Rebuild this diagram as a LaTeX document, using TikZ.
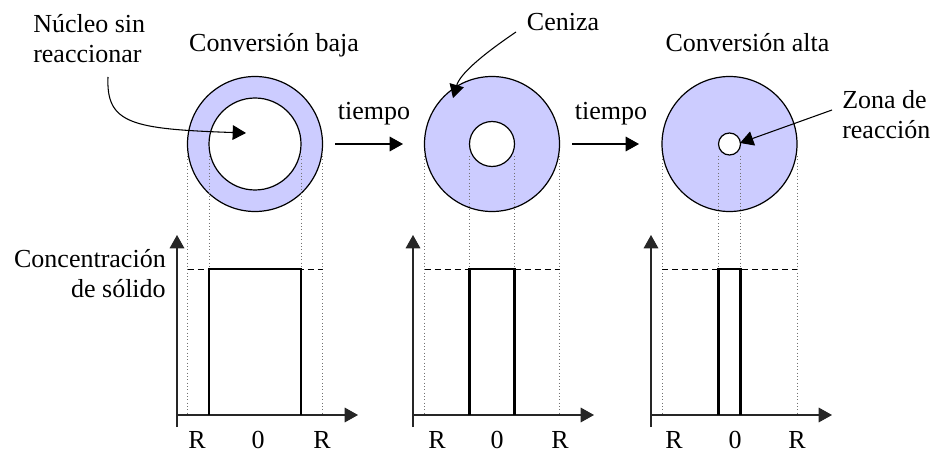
\documentclass[tikz,border=0pt]{standalone}
\usepackage{fontspec}
\setmainfont{Liberation Serif}
\usepackage{tikz}
\usetikzlibrary{calc}
\usetikzlibrary{arrows.meta}
\usetikzlibrary{positioning}
\definecolor{ash}{RGB}{204,204,255}

\tikzset{
  lbl/.style={font=\fontsize{19.5}{22.5}\selectfont, inner sep=0pt},
  ptr/.style={-{Triangle[length=10pt,width=11pt]}, line width=0.8pt},
  axis/.style={-{Triangle[length=10pt,width=11pt]}, line width=0.9pt, draw=black!85},
  guide/.style={dotted, draw=black!55, line width=0.5pt},
  level/.style={dash pattern=on 4.5pt off 3pt, line width=0.6pt},
  profile/.style={line width=2pt},
  shell/.style={fill=ash, line width=0.9pt},
  core/.style={fill=white, line width=0.9pt}
}

\begin{document}
\begin{tikzpicture}[x=0.75pt, y=-0.75pt]
\useasboundingbox (0,0) rectangle (937,452);

% particle centres
\coordinate (c1) at (255,144);
\coordinate (c2) at (492,144);
\coordinate (c3) at (729.5,144);

% labels
\node [lbl, anchor=north west, align=left] (nucleo) at (33,14) {Núcleo sin\\reaccionar};
\node [lbl, anchor=base] (baja) at (274,52) {Conversión baja};
\node [lbl, anchor=base] (ceniza) at (563,31) {Ceniza};
\node [lbl, anchor=base] (alta) at (747.5,52) {Conversión alta};
\node [lbl, anchor=base] (t1) at (374,120) {tiempo};
\node [lbl, anchor=base] (t2) at (611,120) {tiempo};
\node [lbl, anchor=north west, align=left] (zona) at (842,90) {Zona de\\reacción};
\node [lbl, anchor=north east, align=right] (conc) at (166,249) {Concentración\\de sólido};

% particles
\draw [shell] (c1) circle (67.5);
\draw [core] (c1) circle (46);
\draw [shell] (c2) circle (67.5);
\draw [core] (c2) circle (22.5);
\draw [shell] (c3) circle (67.5);
\draw [core] (c3) circle (11);

% guides
\draw [guide] (187.5,156) -- (187.5,415);
\draw [guide] (209,156) -- (209,415);
\draw [guide] (301,156) -- (301,415);
\draw [guide] (322.5,156) -- (322.5,415);
\draw [guide] (424.5,156) -- (424.5,415);
\draw [guide] (469.5,156) -- (469.5,415);
\draw [guide] (514.5,156) -- (514.5,415);
\draw [guide] (559.5,156) -- (559.5,415);
\draw [guide] (662,156) -- (662,415);
\draw [guide] (718.5,156) -- (718.5,415);
\draw [guide] (740.5,156) -- (740.5,415);
\draw [guide] (797,156) -- (797,415);

% axes
\draw [axis] (177,427) -- (177,235);
\draw [axis] (177,415) -- (358,415);
\draw [axis] (413,427) -- (413,235);
\draw [axis] (413,415) -- (594,415);
\draw [axis] (651,427) -- (651,235);
\draw [axis] (651,415) -- (832,415);

% initial level
\draw [level] (187.5,269) -- (322.5,269);
\draw [level] (424.5,269) -- (559.5,269);
\draw [level] (662,269) -- (797,269);

% solid profile
\draw [profile] (209,415) -- (209,269) -- (301,269) -- (301,415);
\draw [profile] (469.5,415) -- (469.5,269) -- (514.5,269) -- (514.5,415);
\draw [profile] (718.5,415) -- (718.5,269) -- (740.5,269) -- (740.5,415);

% radius labels
\node [lbl, anchor=base] (r1a) at (197,448) {R};
\node [lbl, anchor=base] (o1) at (258,448) {0};
\node [lbl, anchor=base] (r1b) at (322,448) {R};
\node [lbl, anchor=base] (r2a) at (437,448) {R};
\node [lbl, anchor=base] (o2) at (497,448) {0};
\node [lbl, anchor=base] (r2b) at (560,448) {R};
\node [lbl, anchor=base] (r3a) at (674,448) {R};
\node [lbl, anchor=base] (o3) at (735,448) {0};
\node [lbl, anchor=base] (r3b) at (797,448) {R};

% pointers
\coordinate (n0) at (108,77);
\coordinate (n1) at (246,133);
\coordinate (a0) at (516,32);
\coordinate (a1) at (453,98);
\coordinate (z0) at (832,110);
\coordinate (z1) at (740,143);
\coordinate (s1) at (335,144);
\coordinate (e1) at (403,144);
\coordinate (s2) at (572,144);
\coordinate (e2) at (639,144);
\draw [ptr] (n0) .. controls (106,124) and (132,129) .. (n1);
\draw [ptr] (a0) .. controls (482,55) and (460,74) .. (a1);
\draw [ptr] (z0) -- (z1);
\draw [ptr] (s1) -- (e1);
\draw [ptr] (s2) -- (e2);
\end{tikzpicture}
\end{document}
